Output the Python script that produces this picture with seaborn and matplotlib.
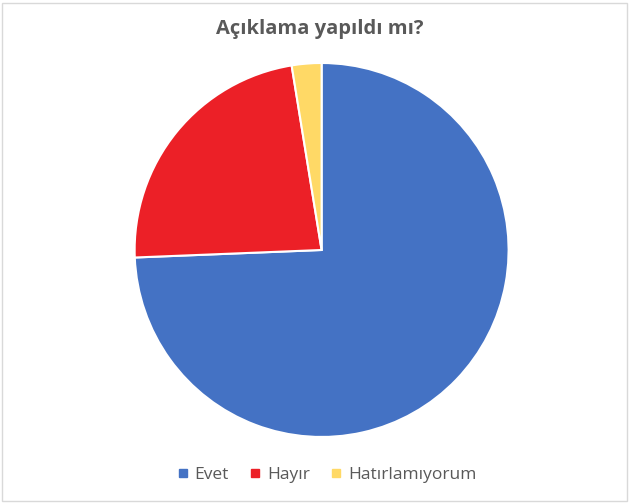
import matplotlib
matplotlib.use("Agg")
import matplotlib.pyplot as plt
from matplotlib.patches import Rectangle
from matplotlib.lines import Line2D
import seaborn as sns

sns.set_theme(style="white")
plt.rcParams["font.family"] = ["Open Sans", "DejaVu Sans"]

categories = ["Evet", "Hayır", "Hatırlamıyorum"]
counts = [29, 9, 1]
colors = ["#4472C4", "#EC2027", "#FFD966"]
title = "Açıklama yapıldı mı?"

fig = plt.figure(figsize=(6.3, 5.04), dpi=100)
ax = fig.add_axes([0.2135, 0.133, 0.594, 0.742])

ax.pie(counts, colors=colors, startangle=90, counterclock=False,
       wedgeprops=dict(edgecolor="white", linewidth=1.5))
ax.set_xlim(-1.0, 1.0)
ax.set_ylim(-1.0, 1.0)
ax.set_aspect("equal")
ax.axis("off")

fig.text(0.508, 0.943, title, ha="center", va="center",
         fontsize=14.5, fontweight="bold", color="#595959")

handles = [Line2D([0], [0], marker="s", linestyle="none", markersize=6,
                  markerfacecolor=c, markeredgecolor=c) for c in colors]
fig.legend(handles, categories, loc="center", bbox_to_anchor=(0.515, 0.058),
           ncol=3, frameon=False, fontsize=12.5, labelcolor="#595959",
           handletextpad=0.1, columnspacing=0.9, handlelength=1.2)

fig.patches.append(Rectangle((0.003, 0.006), 0.993, 0.988, transform=fig.transFigure,
                             fill=False, edgecolor="#D9D9D9", linewidth=1))

fig.savefig("out.png", dpi=100, facecolor="white")
